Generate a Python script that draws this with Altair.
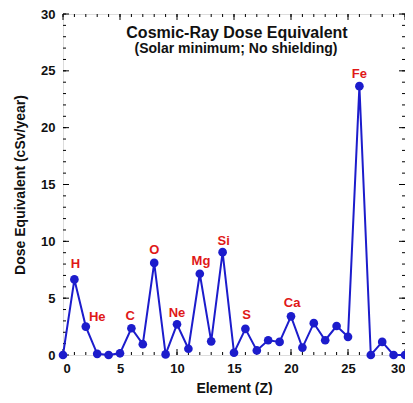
import altair as alt
import pandas as pd

# Data
elements_z = list(range(31))
dose = [0.0, 6.65, 2.5, 0.1, 0.0, 0.15, 2.35, 0.95, 8.1, 0.05, 2.7, 0.55, 7.15, 1.2, 9.05,
        0.2, 2.3, 0.4, 1.3, 1.15, 3.4, 0.65, 2.8, 1.3, 2.55, 1.6, 23.65, 0.0, 1.15, 0.0, 0.0]

label_names = ["H", "He", "C", "O", "Ne", "Mg", "Si", "S", "Ca", "Fe"]
label_x = [1.1, 3.0, 5.9, 8.0, 10.0, 12.1, 14.1, 16.1, 20.1, 26.0]
label_y = [8.0, 3.35, 3.4, 9.2, 3.7, 8.25, 10.05, 3.5, 4.55, 24.75]

x_major = [0, 5, 10, 15, 20, 25, 30]
x_minor = list(range(31))
y_major = [0, 5, 10, 15, 20, 25, 30]
y_minor = list(range(31))

W, H = 342, 341
FONT = "Liberation Sans"

df = pd.DataFrame({"Z": elements_z, "dose": dose})
lab = pd.DataFrame({"name": label_names, "x": label_x, "y": label_y})

xscale = alt.Scale(domain=[0, 30], nice=False)
yscale = alt.Scale(domain=[0, 30], nice=False)

xaxis = alt.Axis(values=x_major, ticks=False, domain=False, grid=False, labelFont=FONT,
                 labelFontWeight="bold", labelFontSize=13, labelColor="#111", labelPadding=7,
                 title="Element (Z)", titleFont=FONT, titleFontWeight="bold", titleFontSize=14,
                 titlePadding=6, titleColor="#111", format="d")
yaxis = alt.Axis(values=y_major, ticks=False, domain=False, grid=False, labelFont=FONT,
                 labelFontWeight="bold", labelFontSize=13, labelColor="#111", labelPadding=8,
                 title="Dose Equivalent (cSv/year)", titleFont=FONT, titleFontWeight="bold",
                 titleFontSize=14, titlePadding=13, titleColor="#111", format="d")

BLUE = "#1c1ccc"

line = alt.Chart(df).mark_line(color=BLUE, strokeWidth=2, clip=False).encode(
    x=alt.X("Z:Q", scale=xscale, axis=xaxis),
    y=alt.Y("dose:Q", scale=yscale, axis=yaxis),
)
pts = alt.Chart(df).mark_circle(color=BLUE, size=75, opacity=1).encode(
    x=alt.X("Z:Q", scale=xscale), y=alt.Y("dose:Q", scale=yscale)
)
labels = alt.Chart(lab).mark_text(color="#e01818", font=FONT, fontWeight="bold", fontSize=13).encode(
    x=alt.X("x:Q", scale=xscale), y=alt.Y("y:Q", scale=yscale), text="name:N"
)

xmaj = pd.DataFrame({"v": x_major})
xmin = pd.DataFrame({"v": x_minor})
ymaj = pd.DataFrame({"v": y_major})
ymin = pd.DataFrame({"v": y_minor})

def xticks(d, length):
    b = alt.Chart(d).mark_rule(color="black", strokeWidth=1).encode(
        x=alt.X("v:Q", scale=xscale), y=alt.value(H), y2=alt.value(H - length))
    t = alt.Chart(d).mark_rule(color="black", strokeWidth=1).encode(
        x=alt.X("v:Q", scale=xscale), y=alt.value(0), y2=alt.value(length))
    return b + t

def yticks(d, length):
    l = alt.Chart(d).mark_rule(color="black", strokeWidth=1).encode(
        y=alt.Y("v:Q", scale=yscale), x=alt.value(0), x2=alt.value(length))
    r = alt.Chart(d).mark_rule(color="black", strokeWidth=1).encode(
        y=alt.Y("v:Q", scale=yscale), x=alt.value(W), x2=alt.value(W - length))
    return l + r

title_df = pd.DataFrame({"t": ["Cosmic-Ray Dose Equivalent"]})
sub_df = pd.DataFrame({"t": ["(Solar minimum; No shielding)"]})
title = alt.Chart(title_df).mark_text(font=FONT, fontWeight="bold", fontSize=16, color="#111").encode(
    x=alt.value(174), y=alt.value(19), text="t:N")
sub = alt.Chart(sub_df).mark_text(font=FONT, fontWeight="bold", fontSize=14, color="#111").encode(
    x=alt.value(173), y=alt.value(35), text="t:N")

chart = alt.layer(
    xticks(xmin, 3), xticks(xmaj, 6), yticks(ymin, 3), yticks(ymaj, 6),
    line, pts, labels, title, sub
).properties(
    width=W, height=H,
    padding={"left": 55, "top": 6, "right": 0, "bottom": 40},
    autosize=alt.AutoSizeParams(type="none"),
).configure_view(stroke="black", strokeWidth=1.5).configure(background="white")

chart.save("out.html", embed_options={"renderer": "svg", "actions": False})
